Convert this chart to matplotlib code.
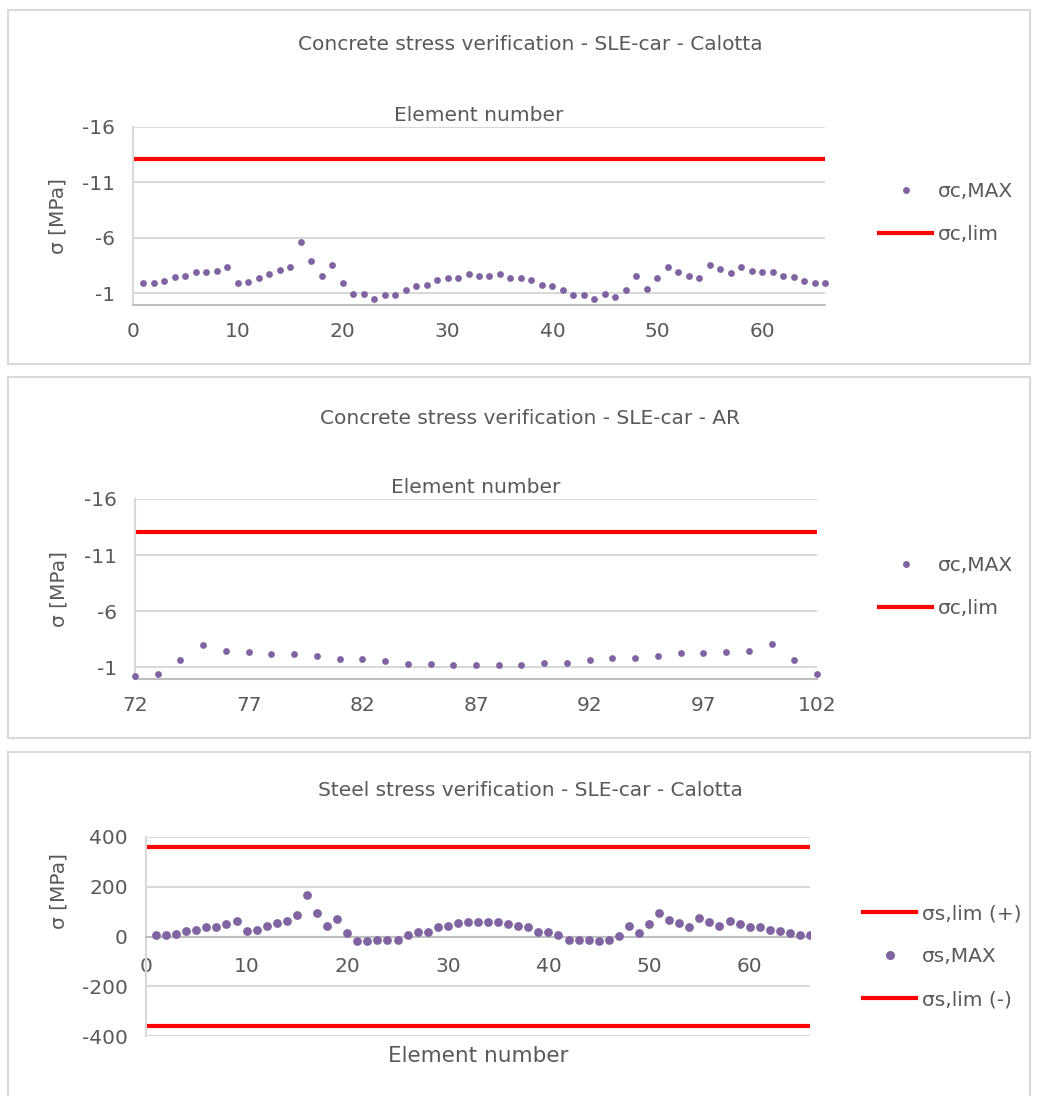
import matplotlib
matplotlib.use("Agg")
import matplotlib.pyplot as plt
from matplotlib.lines import Line2D
from matplotlib.patches import Rectangle

plt.rcParams['font.family'] = ['DejaVu Sans']
plt.rcParams['axes.unicode_minus'] = False

# data
el_cal = list(range(1, 67))
sc_cal = [-1.89, -1.89, -2.10, -2.47, -2.60, -2.93, -2.93, -3.06, -3.39, -1.89,
          -2.01, -2.35, -2.72, -3.09, -3.39, -5.66, -3.88, -2.60, -3.58, -1.92,
          -0.97, -0.97, -0.48, -0.82, -0.82, -1.31, -1.64, -1.74, -2.23, -2.35,
          -2.35, -2.75, -2.60, -2.56, -2.75, -2.35, -2.35, -2.23, -1.77, -1.64,
          -1.31, -0.82, -0.82, -0.45, -0.94, -0.69, -1.28, -2.60, -1.43, -2.35,
          -3.42, -2.93, -2.60, -2.35, -3.55, -3.18, -2.81, -3.42, -3.06, -2.93,
          -2.93, -2.60, -2.47, -2.13, -1.89, -1.89]

el_ar = list(range(72, 103))
sc_ar = [-0.25, -0.40, -1.66, -3.00, -2.43, -2.34, -2.22, -2.22, -1.99, -1.75,
         -1.75, -1.54, -1.30, -1.30, -1.18, -1.22, -1.22, -1.22, -1.36, -1.36,
         -1.60, -1.81, -1.81, -2.04, -2.28, -2.28, -2.40, -2.49, -3.06, -1.66,
         -0.43]

ss_cal = [7, 7, 12, 23, 28, 37, 37, 49, 63, 23,
          28, 43, 53, 64, 85, 167, 95, 43, 69, 15,
          -17, -19, -13, -13, -13, 8, 19, 19, 37, 44,
          53, 59, 59, 59, 59, 49, 43, 37, 19, 19,
          8, -13, -13, -13, -19, -13, 1, 43, 13, 52,
          95, 68, 53, 37, 75, 59, 41, 64, 49, 37,
          37, 28, 23, 13, 8, 8]

sc_lim = -13.1
ss_lim = 360

conc_ticks = [-16, -11, -6, -1]
steel_ticks = [-400, -200, 0, 200, 400]

titles = ["Concrete stress verification - SLE-car - Calotta",
          "Concrete stress verification - SLE-car - AR",
          "Steel stress verification - SLE-car - Calotta"]

W, H = 1038, 1096
purple = '#8064A2'
red = '#FF0000'
txt = '#595959'
grid = '#D9D9D9'
axis_c = '#BFBFBF'
fs = 14.5

fig = plt.figure(figsize=(W / 100, H / 100), dpi=100)


def px_axes(left, top, right, bottom):
    return fig.add_axes([left / W, 1 - bottom / H, (right - left) / W, (bottom - top) / H])


# panel borders
for (y0, y1) in [(10, 364), (377, 738), (752, 1100)]:
    fig.patches.append(Rectangle((8 / W, 1 - y1 / H), (1030 - 8) / W, (y1 - y0) / H,
                                 transform=fig.transFigure, fill=False,
                                 edgecolor=grid, lw=1.5))


def style(ax):
    for s in ['top', 'right']:
        ax.spines[s].set_visible(False)
    ax.spines['left'].set_color(grid)
    ax.spines['left'].set_linewidth(1.5)
    ax.spines['bottom'].set_color(axis_c)
    ax.spines['bottom'].set_linewidth(1.5)
    ax.tick_params(length=0, labelsize=fs, labelcolor=txt)
    ax.tick_params(axis='y', pad=13)
    ax.tick_params(axis='x', pad=12.5)
    ax.grid(axis='y', color=grid, lw=1.5)
    ax.set_axisbelow(True)


def add_legend(handles, labels, x, y):
    fig.legend(handles, labels, loc='upper left',
               bbox_to_anchor=(x / W, 1 - y / H), frameon=False,
               fontsize=fs, labelcolor=txt, handlelength=2.65, handletextpad=0.27,
               labelspacing=1.2, borderpad=0, borderaxespad=0)


def concrete(ax, x, y, xlim, xticks, label_x, legend_y):
    style(ax)
    ax.scatter(x, y, s=24, color=purple, zorder=3, linewidths=0, clip_on=False)
    ax.axhline(sc_lim, color=red, lw=3, zorder=2)
    ax.set_xlim(*xlim)
    ax.set_ylim(0.05, -16)
    ax.set_yticks(conc_ticks)
    ax.set_xticks(xticks)
    ax.set_ylabel('σ [MPa]', fontsize=fs, color=txt)
    ax.yaxis.set_label_coords(label_x, 0.5)
    ax.xaxis.set_label_position('top')
    ax.set_xlabel('Element number', fontsize=fs, color=txt, labelpad=4)
    h = [Line2D([], [], ls='none', marker='o', ms=5, color=purple, mec='none'),
         Line2D([], [], color=red, lw=3)]
    add_legend(h, ['σc,MAX', 'σc,lim'], 879, legend_y)


ax1 = px_axes(133, 127, 825, 305)
concrete(ax1, el_cal, sc_cal, (0, 66), range(0, 61, 10), -0.094, 182)
fig.text(530 / W, 1 - 45 / H, titles[0], ha='center', va='center', fontsize=fs, color=txt)

ax2 = px_axes(135, 499, 817, 679)
concrete(ax2, el_ar, sc_ar, (72, 102), range(72, 103, 5), -0.098, 556)
fig.text(530 / W, 1 - 418 / H, titles[1], ha='center', va='center', fontsize=fs, color=txt)

# steel panel
ax3 = px_axes(146, 837, 810, 1036)
style(ax3)
ax3.tick_params(axis='x', pad=15)
ax3.scatter(el_cal, ss_cal, s=40, color=purple, zorder=3, linewidths=0)
ax3.axhline(ss_lim, color=red, lw=3, zorder=2)
ax3.axhline(-ss_lim, color=red, lw=3, zorder=2)
ax3.set_xlim(0, 66)
ax3.set_ylim(-400, 400)
ax3.set_yticks(steel_ticks)
ax3.set_xticks(range(0, 61, 10))
ax3.spines['bottom'].set_position(('data', 0))
ax3.set_ylabel('σ [MPa]', fontsize=fs, color=txt)
ax3.yaxis.set_label_coords(-0.117, 0.73)
ax3.set_xlabel('Element number', fontsize=fs + 1, color=txt)
ax3.xaxis.set_label_coords(0.5, -0.052)
fig.text(530 / W, 1 - 790 / H, titles[2], ha='center', va='center', fontsize=fs, color=txt)
h3 = [Line2D([], [], color=red, lw=3),
      Line2D([], [], ls='none', marker='o', ms=6.5, color=purple, mec='none'),
      Line2D([], [], color=red, lw=3)]
add_legend(h3, ['σs,lim (+)', 'σs,MAX', 'σs,lim (-)'], 863, 904)

fig.savefig('out.png', dpi=100)
